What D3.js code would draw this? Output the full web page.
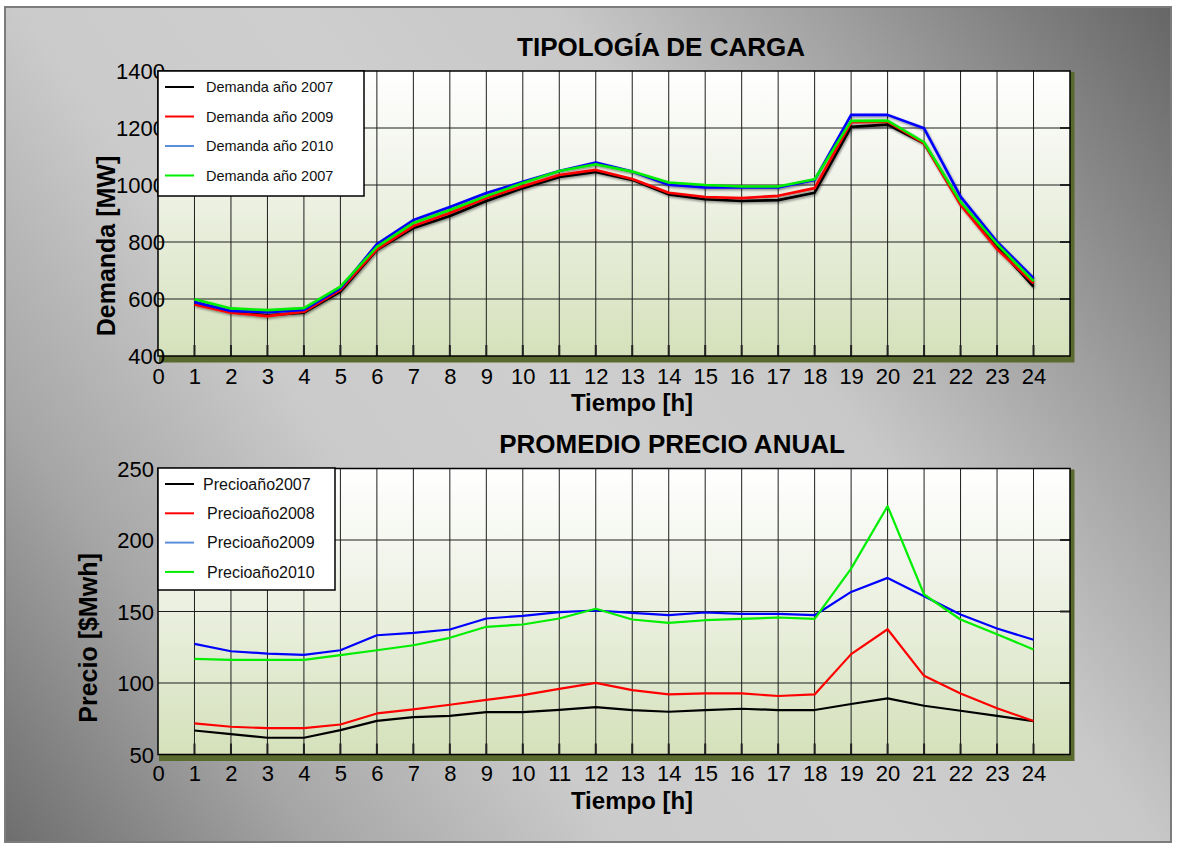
<!DOCTYPE html>
<html>
<head>
<meta charset="utf-8">
<script src="https://cdn.jsdelivr.net/npm/d3@7"></script>
<style>
  html, body { margin: 0; padding: 0; background: #ffffff; }
  svg { display: block; font-family: "Liberation Sans", Arial, sans-serif; }
</style>
</head>
<body>
<svg id="chart" width="1177" height="848"></svg>
<script>
// ---- data ----
const hours = [1, 2, 3, 4, 5, 6, 7, 8, 9, 10, 11, 12, 13, 14, 15, 16, 17, 18, 19, 20, 21, 22, 23, 24];
const hourTicks = [0, 1, 2, 3, 4, 5, 6, 7, 8, 9, 10, 11, 12, 13, 14, 15, 16, 17, 18, 19, 20, 21, 22, 23, 24];

// Demand profile [MW]
const demanda2007 = [586, 554, 543, 552, 626, 772, 849, 891, 944, 989, 1028, 1046, 1018, 967, 950, 944, 947, 973, 1204, 1212, 1146, 936, 784, 643];
const demanda2009 = [581, 552, 540, 555, 632, 774, 856, 902, 954, 996, 1035, 1053, 1021, 973, 958, 954, 962, 989, 1220, 1222, 1146, 930, 775, 655];
const demanda2010 = [589, 558, 554, 562, 637, 793, 877, 923, 972, 1011, 1049, 1079, 1047, 1001, 991, 991, 991, 1018, 1246, 1246, 1199, 959, 801, 673];
const demanda2007b = [599, 567, 561, 568, 643, 783, 867, 912, 961, 1007, 1049, 1073, 1047, 1009, 1000, 995, 995, 1020, 1225, 1226, 1150, 941, 793, 663];
const demandaTicks = [400, 600, 800, 1000, 1200, 1400];
const demandaLabels = ["Demanda año 2007", "Demanda año 2009", "Demanda año 2010", "Demanda año 2007"];

// Average hourly price [$/MWh]
const precio2007 = [66.8, 64.2, 61.7, 61.7, 67.0, 73.5, 76.1, 77.0, 79.6, 79.6, 81.2, 83.1, 81.0, 79.9, 81.1, 82.0, 81.1, 81.1, 85.3, 89.2, 84.1, 80.6, 77.0, 73.4];
const precio2008 = [71.7, 69.4, 68.4, 68.4, 71.0, 78.7, 81.5, 84.8, 88.2, 91.5, 95.9, 100.1, 95.0, 92.0, 92.7, 92.7, 90.9, 92.0, 120.2, 137.6, 105.0, 92.7, 82.4, 73.4];
const precio2009 = [127.4, 122.2, 120.6, 119.7, 122.9, 133.4, 135.1, 137.4, 145.1, 147.0, 149.5, 150.7, 149.1, 147.4, 149.3, 148.3, 148.3, 147.4, 163.7, 173.5, 160.7, 147.9, 138.1, 130.2];
const precio2010 = [116.9, 116.2, 116.2, 116.2, 119.5, 122.9, 126.4, 131.6, 139.3, 140.9, 145.1, 151.9, 144.4, 142.0, 143.9, 144.8, 145.8, 144.8, 180.0, 223.7, 161.9, 144.4, 134.1, 123.5];
const precioTicks = [50, 100, 150, 200, 250];
const precioLabels = ["Precioaño2007", "Precioaño2008", "Precioaño2009", "Precioaño2010"];

// ---- styling ----
const lineColors = ["#000000", "#ff0000", "#0000ff", "#00ee00"];
const swatchColors = ["#000000", "#ff0000", "#5b8fdc", "#00ee00"];

const svg = d3.select("#chart");
const defs = svg.append("defs");

const bg = defs.append("linearGradient").attr("id", "bgGrad")
  .attr("gradientUnits", "userSpaceOnUse")
  .attr("x1", 0).attr("y1", 848).attr("x2", 1177).attr("y2", 0);
[[0, "#6c6c6c"], [0.18, "#a6a6a6"], [0.35, "#cbcbcb"], [0.5, "#cecece"], [0.65, "#c8c8c8"], [0.8, "#a0a0a0"], [1, "#646464"]]
  .forEach(([o, c]) => bg.append("stop").attr("offset", o).attr("stop-color", c));

const pg = defs.append("linearGradient").attr("id", "plotGrad")
  .attr("x1", 0).attr("y1", 0).attr("x2", 0).attr("y2", 1);
pg.append("stop").attr("offset", 0).attr("stop-color", "#ffffff");
pg.append("stop").attr("offset", 0.35).attr("stop-color", "#f1f4ea");
pg.append("stop").attr("offset", 1).attr("stop-color", "#d5e1bb");

const sh = defs.append("filter").attr("id", "lineShadow")
  .attr("x", "-5%").attr("y", "-5%").attr("width", "110%").attr("height", "120%");
sh.append("feDropShadow").attr("dx", 1).attr("dy", 1.5).attr("stdDeviation", 0.9)
  .attr("flood-color", "#000").attr("flood-opacity", 0.45);

// outer panel
svg.append("rect").attr("x", 5).attr("y", 7).attr("width", 1166).attr("height", 835)
  .attr("fill", "url(#bgGrad)").attr("stroke", "#7c7c7c").attr("stroke-width", 2);

const x = d3.scaleLinear().domain([0, 25]).range([158, 1070]);

function drawChart(o) {
  const g = svg.append("g");
  const y = d3.scaleLinear().domain(o.yDomain).range([o.bottom, o.top]);
  const [x0, x1] = x.range();

  // title
  g.append("text").attr("x", o.titleX).attr("y", o.titleY)
    .attr("text-anchor", "middle").attr("font-size", 26).attr("font-weight", "bold")
    .attr("fill", "#000").text(o.title);

  // plot shadow and plot area
  g.append("rect").attr("x", x0 + 1).attr("y", o.top + 1)
    .attr("width", x1 - x0 + 3.5).attr("height", o.bottom - o.top + 5.5)
    .attr("fill", "#596a2e");
  g.append("rect").attr("x", x0).attr("y", o.top)
    .attr("width", x1 - x0).attr("height", o.bottom - o.top)
    .attr("fill", "url(#plotGrad)");

  // grid
  const grid = g.append("g");
  grid.selectAll("line.v").data(hours).join("line").attr("class", "v")
    .attr("x1", d => x(d)).attr("x2", d => x(d))
    .attr("y1", o.top).attr("y2", o.bottom)
    .attr("stroke", "#1e1e1e").attr("stroke-width", 1);
  grid.selectAll("line.vt").data(hours).join("line").attr("class", "vt")
    .attr("x1", d => x(d)).attr("x2", d => x(d))
    .attr("y1", o.bottom - 11).attr("y2", o.bottom)
    .attr("stroke", "#222").attr("stroke-width", 2);
  const inner = o.yTicks.slice(1, -1);
  grid.selectAll("line.h").data(inner).join("line").attr("class", "h")
    .attr("x1", x0).attr("x2", x1)
    .attr("y1", d => y(d)).attr("y2", d => y(d))
    .attr("stroke", "#1e1e1e").attr("stroke-width", 1);
  grid.selectAll("line.ht").data(inner).join("line").attr("class", "ht")
    .attr("x1", x1 - 10).attr("x2", x1)
    .attr("y1", d => y(d)).attr("y2", d => y(d))
    .attr("stroke", "#222").attr("stroke-width", 2);

  g.append("rect").attr("x", x0).attr("y", o.top)
    .attr("width", x1 - x0).attr("height", o.bottom - o.top)
    .attr("fill", "none").attr("stroke", "#000").attr("stroke-width", 1.5);

  // series
  const line = d3.line().x((d, i) => x(hours[i])).y(d => y(d));
  const lines = g.append("g");
  if (o.shadow) lines.attr("filter", "url(#lineShadow)");
  o.series.forEach((s, i) => {
    lines.append("path").datum(s).attr("d", line)
      .attr("fill", "none").attr("stroke", lineColors[i])
      .attr("stroke-width", o.lineWidth).attr("stroke-linejoin", "round");
  });

  // x axis labels
  const xa = g.append("g").attr("transform", `translate(0,${o.xLabelY})`)
    .call(d3.axisBottom(x).tickValues(hourTicks).tickSize(0).tickPadding(0).tickFormat(d3.format("d")));
  xa.select(".domain").remove();
  xa.attr("font-size", 22).attr("font-family", null);
  xa.selectAll("text").attr("y", 0).attr("dy", 0).attr("fill", "#000");

  // y axis labels
  const ya = g.append("g").attr("transform", `translate(${o.yLabelX},0)`)
    .call(d3.axisLeft(y).tickValues(o.yTicks).tickSize(0).tickPadding(0).tickFormat(d3.format("d")));
  ya.select(".domain").remove();
  ya.attr("font-size", 22).attr("font-family", null);
  ya.selectAll("text").attr("x", 0).attr("dy", "0.36em").attr("fill", "#000");

  // axis titles
  g.append("text").attr("x", 632).attr("y", o.xTitleY)
    .attr("text-anchor", "middle").attr("font-size", 24).attr("font-weight", "bold")
    .text("Tiempo [h]");
  g.append("text").attr("transform", `translate(${o.yTitleX},${o.yTitleY}) rotate(-90)`)
    .attr("text-anchor", "middle").attr("font-size", 25).attr("font-weight", "bold")
    .text(o.yTitle);

  // legend
  const L = o.legend;
  const lg = g.append("g");
  lg.append("rect").attr("x", x0).attr("y", L.y).attr("width", L.w).attr("height", L.h)
    .attr("fill", "#fff").attr("stroke", "#000").attr("stroke-width", 1.5);
  o.labels.forEach((lab, i) => {
    const ry = L.rowY0 + i * L.rowStep;
    lg.append("line").attr("x1", 165).attr("x2", 194).attr("y1", ry).attr("y2", ry)
      .attr("stroke", swatchColors[i]).attr("stroke-width", 2);
    lg.append("text").attr("x", L.textX[i]).attr("y", ry).attr("dy", "0.35em")
      .attr("font-size", L.fontSize).attr("fill", "#111").text(lab);
  });
}

drawChart({
  title: "TIPOLOGÍA DE CARGA", titleX: 661, titleY: 56,
  top: 71, bottom: 356, yDomain: [400, 1400], yTicks: demandaTicks,
  yLabelX: 165, xLabelY: 384, xTitleY: 411,
  yTitle: "Demanda [MW]", yTitleX: 115, yTitleY: 246,
  series: [demanda2007, demanda2009, demanda2010, demanda2007b],
  labels: demandaLabels, lineWidth: 2.6, shadow: true,
  legend: { y: 71, w: 206, h: 125, rowY0: 87, rowStep: 29.5, textX: [206, 206, 206, 206], fontSize: 14.5 }
});

drawChart({
  title: "PROMEDIO PRECIO ANUAL", titleX: 672, titleY: 453,
  top: 468.5, bottom: 754.5, yDomain: [50, 250], yTicks: precioTicks,
  yLabelX: 154, xLabelY: 781, xTitleY: 809,
  yTitle: "Precio [$Mwh]", yTitleX: 97, yTitleY: 638,
  series: [precio2007, precio2008, precio2009, precio2010],
  labels: precioLabels, lineWidth: 2.2, shadow: false,
  legend: { y: 468, w: 177, h: 122, rowY0: 484, rowStep: 29.3, textX: [203, 207, 207, 207], fontSize: 16 }
});
</script>
</body>
</html>
